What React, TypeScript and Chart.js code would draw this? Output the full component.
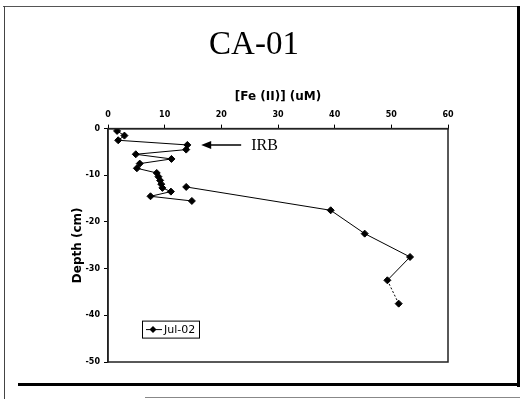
import React, { useEffect, useRef } from "react";
import { Chart, registerables } from "chart.js";

Chart.register(...registerables);

const chartTitle = "CA-01";
const xAxisTitle = "[Fe (II)] (uM)";
const yAxisTitle = "Depth (cm)";
const seriesLabel = "Jul-02";
const annotationText = "IRB";

// Fe(II) concentration (uM) and depth (cm); null marks a break in the line
const feValues: (number | null)[] = [1.6, 2.9, 1.8, 14.0, 13.8, 4.9, 11.2, 5.6, 5.1, 8.6, 8.9, 9.2, 9.4, 9.6, 11.1, 7.5, 14.8, null, 13.8, 39.3, 45.3, 53.3, 49.3, 51.3];
const depthValues: (number | null)[] = [-0.5, -1.5, -2.5, -3.5, -4.5, -5.5, -6.5, -7.5, -8.5, -9.5, -10.3, -11.1, -11.9, -12.7, -13.5, -14.5, -15.5, null, -12.5, -17.5, -22.5, -27.5, -32.5, -37.5];

const xTicks = { min: 0, max: 60, step: 10 };
const yTicks = { min: -50, max: 0, step: 10 };
const annotationPoint = { x: 14.5, y: -3.5 };

const tickFont = { family: "'DejaVu Sans', sans-serif", size: 8, weight: "bold" as const };

const extras = {
  id: "extras",
  afterDraw(chart: any) {
    const { ctx, chartArea, scales } = chart;
    ctx.save();
    // plot frame
    ctx.strokeStyle = "#222";
    ctx.lineWidth = 1.5;
    ctx.strokeRect(chartArea.left, chartArea.top, chartArea.right - chartArea.left, chartArea.bottom - chartArea.top);
    // IRB arrow
    const ax = scales.x.getPixelForValue(annotationPoint.x) + 11;
    const ay = scales.y.getPixelForValue(annotationPoint.y);
    ctx.strokeStyle = "#000";
    ctx.fillStyle = "#000";
    ctx.lineWidth = 1.5;
    ctx.beginPath();
    ctx.moveTo(ax + 4, ay);
    ctx.lineTo(ax + 40, ay);
    ctx.stroke();
    ctx.beginPath();
    ctx.moveTo(ax, ay);
    ctx.lineTo(ax + 10, ay - 4);
    ctx.lineTo(ax + 10, ay + 4);
    ctx.closePath();
    ctx.fill();
    ctx.font = "16px 'Liberation Serif', serif";
    ctx.textBaseline = "middle";
    ctx.textAlign = "left";
    ctx.fillText(annotationText, ax + 50, ay + 1);
    // legend box
    const lx = chartArea.left + 34;
    const ly = chartArea.top + 192;
    ctx.lineWidth = 1;
    ctx.strokeStyle = "#000";
    ctx.fillStyle = "#fff";
    ctx.fillRect(lx, ly, 57, 17);
    ctx.strokeRect(lx + 0.5, ly + 0.5, 57, 17);
    ctx.beginPath();
    ctx.moveTo(lx + 4, ly + 9);
    ctx.lineTo(lx + 20, ly + 9);
    ctx.stroke();
    ctx.fillStyle = "#000";
    ctx.beginPath();
    ctx.moveTo(lx + 11, ly + 5.5);
    ctx.lineTo(lx + 14.5, ly + 9);
    ctx.lineTo(lx + 11, ly + 12.5);
    ctx.lineTo(lx + 7.5, ly + 9);
    ctx.closePath();
    ctx.fill();
    ctx.font = "11px 'DejaVu Sans', sans-serif";
    ctx.fillText(seriesLabel, lx + 22, ly + 9.5);
    ctx.restore();
  },
};

export default function App() {
  const ref = useRef<HTMLCanvasElement>(null);
  useEffect(() => {
    if (!ref.current) return;
    const points = feValues.map((x, i) => ({ x, y: depthValues[i] }));
    const last = points.length - 1;
    const chart = new Chart(ref.current, {
      type: "scatter",
      data: {
        datasets: [
          {
            label: seriesLabel,
            data: points as any,
            showLine: true,
            spanGaps: false,
            borderColor: "#000",
            backgroundColor: "#000",
            borderWidth: 1,
            pointStyle: "rectRot",
            pointRadius: 3.5,
            segment: {
              borderDash: (c: any) => (c.p1DataIndex === last ? [2, 2] : undefined),
            },
          },
        ],
      },
      options: {
        responsive: false,
        animation: false,
        devicePixelRatio: 1,
        layout: { padding: { left: 60, right: 75, bottom: 37, top: 0 } },
        plugins: {
          legend: { display: false },
          tooltip: { enabled: false },
          title: {
            display: true,
            text: chartTitle,
            color: "#000",
            font: { family: "'Liberation Serif', serif", size: 33, weight: "normal" },
            padding: { top: 26, bottom: 16 },
          },
        },
        scales: {
          x: {
            type: "linear",
            position: "top",
            min: xTicks.min,
            max: xTicks.max,
            afterFit: (s: any) => { s.height = 47; },
            ticks: { stepSize: xTicks.step, color: "#000", font: tickFont, padding: 5, maxRotation: 0 },
            grid: { drawOnChartArea: false, tickLength: 4, color: "#000" },
            border: { color: "#222", width: 1.5 },
            title: {
              display: true,
              text: xAxisTitle,
              color: "#000",
              font: { family: "'DejaVu Sans', sans-serif", size: 12, weight: "bold" },
              padding: { top: 8, bottom: 0 },
            },
          },
          y: {
            type: "linear",
            min: yTicks.min,
            max: yTicks.max,
            afterFit: (s: any) => { s.width = 48; },
            ticks: { stepSize: yTicks.step, color: "#000", font: tickFont, padding: 4 },
            grid: { drawOnChartArea: false, tickLength: 4, color: "#000" },
            border: { color: "#222", width: 1.5 },
            title: {
              display: true,
              text: yAxisTitle,
              color: "#000",
              font: { family: "'DejaVu Sans', sans-serif", size: 12, weight: "bold" },
              padding: { top: 11, bottom: 0 },
            },
          },
        },
      },
      plugins: [extras],
    });
    return () => chart.destroy();
  }, []);

  return (
    <div style={{ position: "absolute", left: 0, top: 0, width: 523, height: 399, background: "#fff", overflow: "hidden" }}>
      <canvas ref={ref} width={523} height={399} style={{ position: "absolute", left: 0, top: 0 }} />
      <div style={{ position: "absolute", left: 3, top: 6, width: 517, height: 1, background: "#555" }} />
      <div style={{ position: "absolute", left: 4, top: 6, width: 1, height: 393, background: "#444" }} />
      <div style={{ position: "absolute", left: 517, top: 6, width: 3, height: 381, background: "#000" }} />
      <div style={{ position: "absolute", left: 18, top: 383, width: 502, height: 3, background: "#000" }} />
      <div style={{ position: "absolute", left: 145, top: 397, width: 375, height: 1, background: "#888" }} />
    </div>
  );
}
